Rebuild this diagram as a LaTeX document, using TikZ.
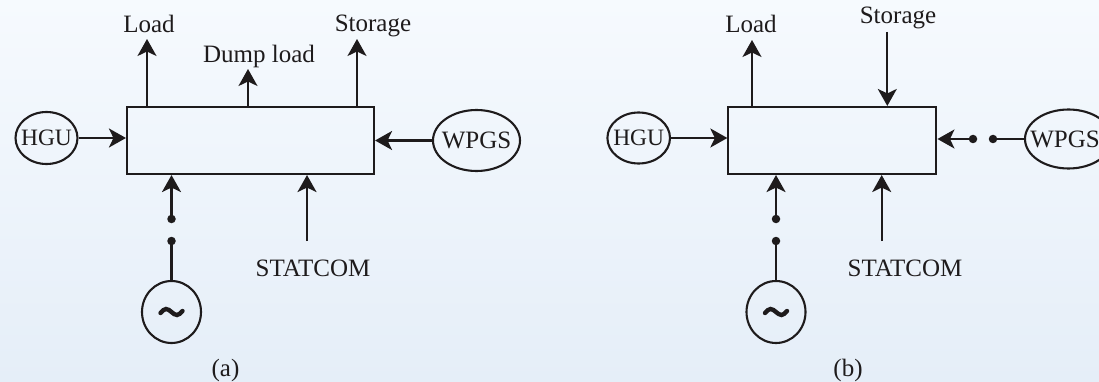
\documentclass[tikz,border=0pt]{standalone}
\usepackage{fontspec}
\setmainfont{Liberation Serif}
\usetikzlibrary{arrows.meta,shapes.geometric}
\definecolor{bgT}{RGB}{246,250,254}
\definecolor{bgB}{RGB}{229,238,248}
\definecolor{ink}{RGB}{30,27,28}
\tikzset{
  ln/.style={draw=ink, line width=2.1pt},
  arr/.style={ln, -{Stealth[length=17pt,width=19pt,inset=4.5pt]}},
  blk/.style={ln, rectangle, inner sep=0pt, minimum height=67pt},
  oval/.style={ln, ellipse, inner sep=0pt},
  gen/.style={ln, ellipse, inner sep=0pt, minimum width=59pt, minimum height=62pt},
  txt/.style={anchor=base, inner sep=0pt, text=ink},
  dotpt/.style={circle, fill=ink, inner sep=0pt, minimum size=8.5pt},
  wave/.style={draw=ink, line width=4.4pt, line cap=round}
}
\begin{document}
\begin{tikzpicture}[x=1pt, y=-1pt, font=\fontsize{25}{30}\selectfont]
\useasboundingbox (0,0) rectangle (1099,382);
\shade[shading angle=20, top color=bgT, bottom color=bgB] (0,0) rectangle (1099,382);

% ---------------- (a) ----------------
\node[blk, minimum width=247pt] (boxA) at (250.5,140.5) {};
\node[oval, minimum width=62pt, minimum height=52pt,
      label={[text=ink, font=\fontsize{23.5}{28}\selectfont]center:HGU}] (hguA) at (46.5,138) {};
\node[oval, minimum width=87pt, minimum height=61pt,
      label={[text=ink]center:WPGS}] (wpgsA) at (476.5,140.5) {};
\node[gen] (genA) at (171.5,312) {};
\draw[wave] ([xshift=-11pt,yshift=-1pt]genA.center) sin ([xshift=-5.5pt,yshift=3pt]genA.center)
  cos (genA.center) sin ([xshift=5.5pt,yshift=-3pt]genA.center) cos ([xshift=11pt,yshift=1pt]genA.center);

\coordinate (loadA) at (147,39);
\coordinate (dumpA) at (248,69);
\coordinate (stoA) at (357,39);
\coordinate (stcA) at (307,241);
\node[dotpt] (dA1) at (171.5,219) {};
\node[dotpt] (dA2) at (171.5,241) {};

\node[txt] (tLoadA) at (149,33) {Load};
\node[txt] (tDumpA) at (259,63) {Dump load};
\node[txt] (tStoA) at (373,32) {Storage};
\node[txt] (tStcA) at (313,276) {STATCOM};
\node[txt] (capA) at (225.5,376) {(a)};

\draw[arr] (hguA.east) -- (hguA.east -| boxA.west);
\draw[arr] (wpgsA.west) -- (wpgsA.west -| boxA.east);
\draw[arr] (boxA.north -| loadA) -- (loadA);
\draw[arr] (boxA.north -| dumpA) -- (dumpA);
\draw[arr] (boxA.north -| stoA) -- (stoA);
\draw[arr] (stcA) -- (stcA |- boxA.south);
\draw[arr] (dA1.center) -- (dA1 |- boxA.south);
\draw[ln] (genA.north) -- (dA2.center);

% ---------------- (b) ----------------
\node[blk, minimum width=208pt] (boxB) at (832.4,140.5) {};
\node[oval, minimum width=62.6pt, minimum height=51pt,
      label={[text=ink, font=\fontsize{23.5}{28}\selectfont]center:HGU}] (hguB) at (638.7,138) {};
\node[oval, minimum width=87pt, minimum height=59pt,
      label={[text=ink, xshift=-3.5pt]center:WPGS}] (wpgsB) at (1068.5,139) {};
\node[gen] (genB) at (776,312) {};
\draw[wave] ([xshift=-11pt,yshift=-1pt]genB.center) sin ([xshift=-5.5pt,yshift=3pt]genB.center)
  cos (genB.center) sin ([xshift=5.5pt,yshift=-3pt]genB.center) cos ([xshift=11pt,yshift=1pt]genB.center);

\coordinate (loadB) at (752,40);
\coordinate (stoB) at (887.3,32);
\coordinate (stcB) at (881.7,241);
\node[dotpt] (dB1) at (776,219) {};
\node[dotpt] (dB2) at (776,241) {};
\node[dotpt] (dW1) at (973,139) {};
\node[dotpt] (dW2) at (993,139) {};

\node[txt] (tLoadB) at (751,33) {Load};
\node[txt] (tStoB) at (898,24) {Storage};
\node[txt] (tStcB) at (905,276) {STATCOM};
\node[txt] (capB) at (848,376) {(b)};

\draw[arr] (hguB.east) -- (hguB.east -| boxB.west);
\draw[arr] (boxB.north -| loadB) -- (loadB);
\draw[arr] (stoB) -- (stoB |- boxB.north);
\draw[arr] (stcB) -- (stcB |- boxB.south);
\draw[arr] (dB1.center) -- (dB1 |- boxB.south);
\draw[ln] (genB.north) -- (dB2.center);
\draw[arr] (dW1.center) -- (dW1 -| boxB.east);
\draw[ln] (wpgsB.west) -- (dW2.center);
\end{tikzpicture}
\end{document}
